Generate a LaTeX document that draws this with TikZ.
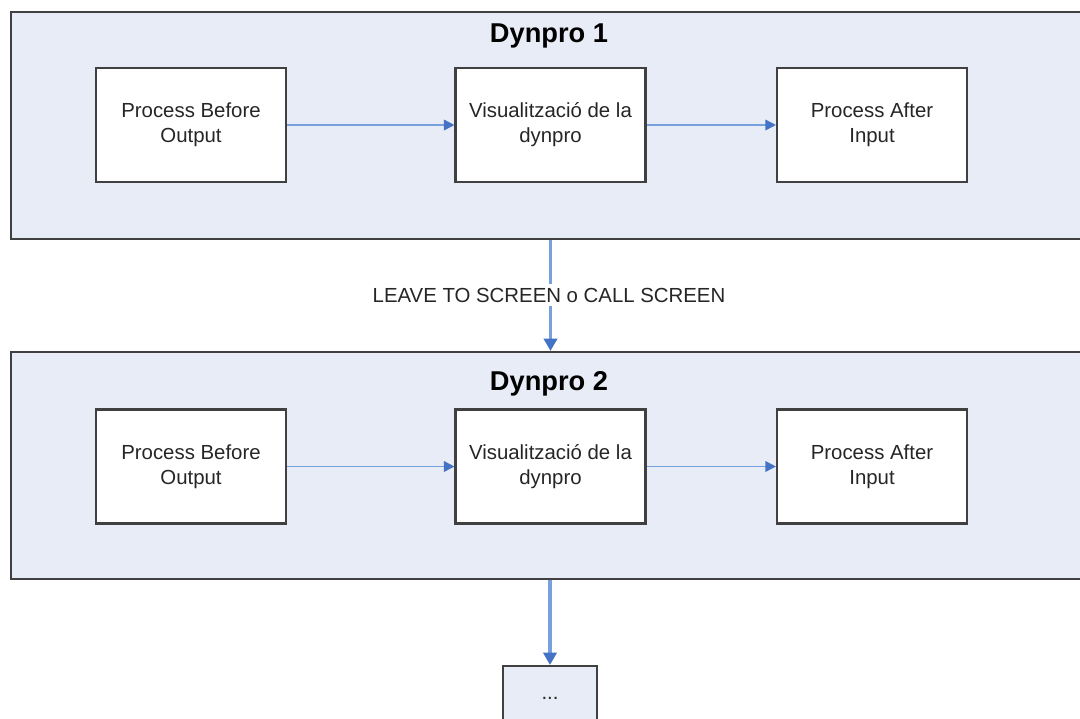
\documentclass[tikz,border=0pt]{standalone}
\usepackage{fontspec}
\setmainfont{Liberation Sans}
\usetikzlibrary{arrows.meta}

\definecolor{panelfill}{RGB}{232,236,246}
\definecolor{edgegray}{RGB}{64,64,64}
\definecolor{flowlight}{RGB}{120,160,220}
\definecolor{flowdark}{RGB}{68,114,196}

\begin{document}
\begin{tikzpicture}
  [x=0.02cm, y=-0.02cm,
   panel/.style={draw=edgegray, line width=1.2pt, fill=panelfill, minimum width=21.78cm, minimum height=4.54cm, inner sep=0pt},
   stage/.style={draw=edgegray, line width=1.2pt, fill=white, minimum width=3.8cm, minimum height=2.28cm, align=center, text=black!85, font=\fontsize{11.6}{14.2}\selectfont},
   title/.style={font=\fontsize{15.5}{19}\selectfont\bfseries},
   note/.style={fill=white, inner sep=2pt, text=black!85, font=\fontsize{11.6}{14}\selectfont},
   flow/.style={draw=flowlight, line width=0.9pt, -{Triangle[length=6pt, width=6pt, color=flowdark]}},
   jump/.style={flow, line width=1.8pt, -{Triangle[length=7pt, width=7.5pt, color=flowdark]}}]

  \useasboundingbox (0,0) rectangle (1080,718);
  \clip (0,0) rectangle (1080,718);

  % Dynpro 1
  \node[panel] (d1) at (555.5,125.5) {};
  \node[title] (t1) at (549,36) {Dynpro 1};
  \node[stage] (a1) at (191,125) {Process Before\\Output};
  \node[stage] (b1) at (550.5,125) {Visualització de la\\dynpro};
  \node[stage] (c1) at (872,125) {Process After\\Input};

  % Dynpro 2
  \node[panel] (d2) at (555.5,465.5) {};
  \node[title] (t2) at (549,384) {Dynpro 2};
  \node[stage] (a2) at (191,466.5) {Process Before\\Output};
  \node[stage] (b2) at (550.5,466.5) {Visualització de la\\dynpro};
  \node[stage] (c2) at (872,466.5) {Process After\\Input};

  % Seguent dynpro
  \node[stage, fill=panelfill, minimum width=1.88cm, minimum height=1.28cm] (more) at (550,698) {...};

  % Fletxes dins de cada dynpro
  \foreach \from/\to in {a1/b1, b1/c1, a2/b2, b2/c2}
    \draw[flow] (\from) -- (\to);

  % Pas d'una dynpro a l'altra
  \draw[jump] (d1.south -| b1) -- (d2.north -| b1);
  \node[note] (lbl) at (549,295) {LEAVE TO SCREEN o CALL SCREEN};
  \draw[jump] (d2.south -| more) -- (more);
\end{tikzpicture}
\end{document}
